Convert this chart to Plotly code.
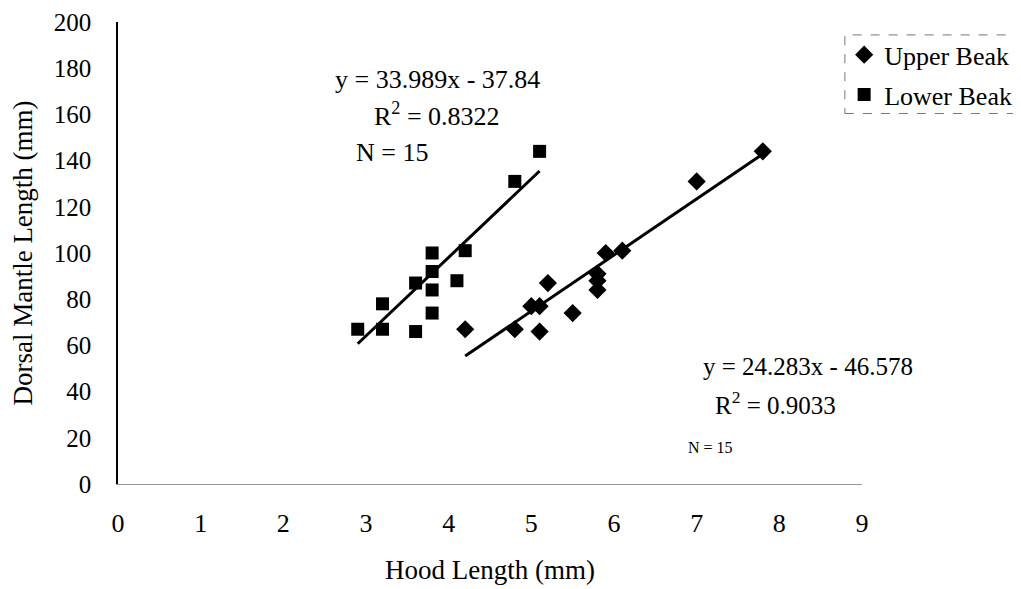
import plotly.graph_objects as go

# Data
upper_x = [4.2, 4.8, 5.1, 5.0, 5.1, 5.2, 5.5, 5.8, 5.8, 5.8, 5.9, 6.1, 7.0, 7.8]
upper_y = [67, 67, 66, 77, 77, 87, 74, 84, 88, 91, 100, 101, 131, 144]
lower_x = [2.9, 3.2, 3.2, 3.6, 3.6, 3.8, 3.8, 3.8, 3.8, 4.1, 4.2, 4.8, 5.1]
lower_y = [67, 67, 78, 66, 87, 100, 92, 84, 74, 88, 101, 131, 144]

upper_fit = (24.283, -46.578)
lower_fit = (33.989, -37.84)

x_ticks = [0, 1, 2, 3, 4, 5, 6, 7, 8, 9]
y_ticks = [0, 20, 40, 60, 80, 100, 120, 140, 160, 180, 200]

FONT = "Liberation Serif"

def fit_line(xs, coef):
    a, b = coef
    x0, x1 = min(xs), max(xs)
    return [x0, x1], [a * x0 + b, a * x1 + b]

fig = go.Figure()
fig.add_trace(go.Scatter(x=upper_x, y=upper_y, mode="markers", name="Upper Beak",
                         legendgroup="u",
                         marker=dict(symbol="diamond", size=14, color="black")))
fig.add_trace(go.Scatter(x=lower_x, y=lower_y, mode="markers", name="Lower Beak",
                         legendgroup="l",
                         marker=dict(symbol="square", size=13, color="black")))
lx, ly = fit_line(upper_x, upper_fit)
fig.add_trace(go.Scatter(x=lx, y=ly, mode="lines", line=dict(color="black", width=3), showlegend=False))
lx, ly = fit_line(lower_x, lower_fit)
fig.add_trace(go.Scatter(x=lx, y=ly, mode="lines", line=dict(color="black", width=3), showlegend=False))

ann_font = dict(family=FONT, size=26, color="black")
fig.add_annotation(x=3.86, y=175, text="y = 33.989x - 37.84", showarrow=False, font=ann_font)
fig.add_annotation(x=3.86, y=160, text="R<sup>2</sup> = 0.8322", showarrow=False, font=ann_font)
fig.add_annotation(x=3.31, y=143.5, text="N = 15", showarrow=False, font=ann_font)
fig.add_annotation(x=8.35, y=51, text="y = 24.283x - 46.578", showarrow=False,
                   font=dict(family=FONT, size=25, color="black"))
fig.add_annotation(x=7.95, y=35, text="R<sup>2</sup> = 0.9033", showarrow=False,
                   font=dict(family=FONT, size=25, color="black"))
fig.add_annotation(x=7.17, y=16, text="N = 15", showarrow=False,
                   font=dict(family=FONT, size=16, color="black"))

# page body has an 8px margin, so the figure is offset by 8px
fig.update_layout(
    width=1013, height=581,
    margin=dict(l=110, r=159, t=14, b=105, autoexpand=False),
    paper_bgcolor="white", plot_bgcolor="white",
    font=dict(family=FONT, size=24, color="black"),
    showlegend=True,
    legend=dict(x=0.976, y=0.98, xanchor="left", yanchor="top",
                bgcolor="rgba(0,0,0,0)", borderwidth=0,
                font=dict(family=FONT, size=26, color="black"),
                itemwidth=30, tracegroupgap=3),
    xaxis=dict(range=[0, 9], tickvals=x_ticks, showgrid=False, zeroline=False,
               showline=True, linecolor="#999", linewidth=1,
               ticks="", ticklabelstandoff=16, automargin=False,
               ticklabeloverflow="allow",
               tickfont=dict(family=FONT, size=26),
               title=dict(text="Hood Length (mm)", standoff=22,
                          font=dict(family=FONT, size=27))),
    yaxis=dict(range=[0, 200], tickvals=y_ticks, showgrid=False, zeroline=False,
               showline=True, linecolor="black", linewidth=1.5,
               ticks="", ticklabelstandoff=20, automargin=False,
               ticklabeloverflow="allow",
               tickfont=dict(family=FONT, size=25),
               title=dict(text="Dorsal Mantle Length (mm)", standoff=20,
                          font=dict(family=FONT, size=27))),
)
fig.add_shape(type="rect", xref="paper", yref="paper", x0=0.977, x1=1.25, y0=0.802, y1=0.972,
              line=dict(color="#777", width=1, dash="dash"))

fig.write_html("out.html")
